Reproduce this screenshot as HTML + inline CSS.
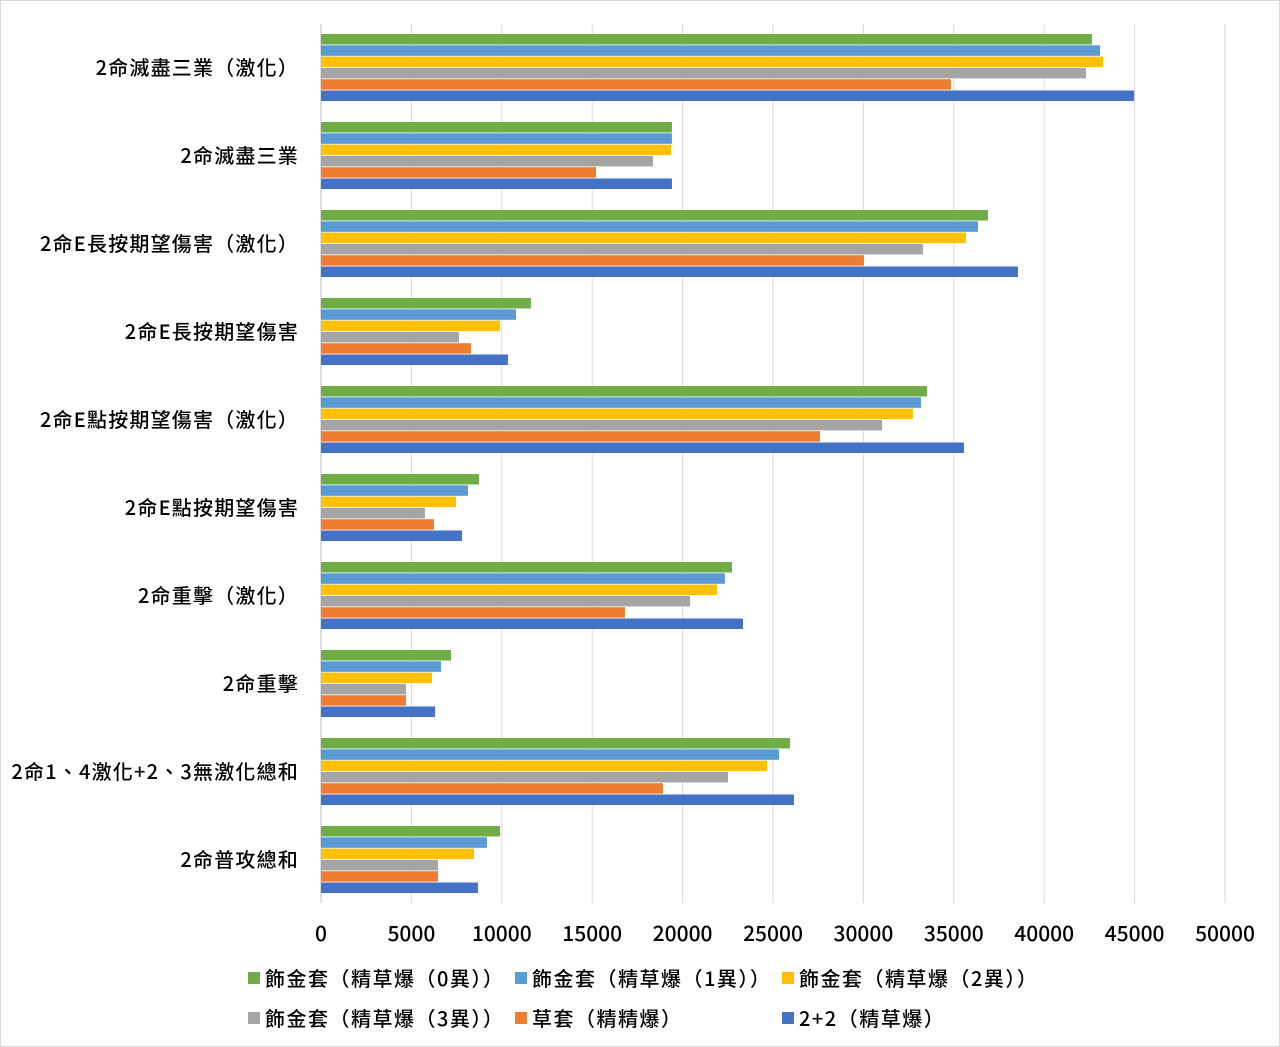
<!DOCTYPE html>
<html><head><meta charset="utf-8">
<style>
body{margin:0;background:#fff;}
svg{display:block;font-family:"Noto Sans CJK TC","Liberation Sans",sans-serif;font-weight:500;}
</style></head>
<body>
<svg id="chart" width="1280" height="1047" viewBox="0 0 1280 1047" xmlns="http://www.w3.org/2000/svg">
<rect x="0.5" y="0.5" width="1279" height="1046" fill="#fff" stroke="#d9d9d9"/>
<g id="grid"></g><g id="bars"></g><g id="cats"></g><g id="ticks"></g><g id="legend"></g>
</svg>
<script>
const categories=["2命滅盡三業（激化）","2命滅盡三業","2命E長按期望傷害（激化）","2命E長按期望傷害","2命E點按期望傷害（激化）","2命E點按期望傷害","2命重擊（激化）","2命重擊","2命1、4激化+2、3無激化總和","2命普攻總和"];
const seriesNames=["飾金套（精草爆（0異））","飾金套（精草爆（1異））","飾金套（精草爆（2異））","飾金套（精草爆（3異））","草套（精精爆）","2+2（精草爆）"];
const seriesColors=["#70ad47","#5b9bd5","#ffc000","#a5a5a5","#ed7d31","#4472c4"];
const s0=[42640,19410,36890,11610,33520,8740,22730,7190,25940,9900];
const s1=[43090,19410,36340,10790,33190,8130,22340,6640,25330,9180];
const s2=[43250,19360,35670,9900,32740,7470,21900,6140,24670,8460];
const s3=[42310,18360,33300,7630,31030,5750,20410,4700,22510,6470];
const s4=[34850,15210,30030,8300,27600,6250,16810,4700,18920,6470];
const s5=[44970,19410,38550,10340,35560,7800,23340,6310,26160,8680];
const series=[s0,s1,s2,s3,s4,s5];
const tickValues=[0,5000,10000,15000,20000,25000,30000,35000,40000,45000,50000];

const NS="http://www.w3.org/2000/svg";
const x0=321,x1=1225,xmax=50000,top0=34,groupH=88,barH=11.3;
const xs=v=>x0+v/xmax*(x1-x0);
function mk(t,a,p){const e=document.createElementNS(NS,t);for(const k in a)e.setAttribute(k,a[k]);p.appendChild(e);return e;}
const grid=document.getElementById('grid'),bars=document.getElementById('bars'),cats=document.getElementById('cats'),ticks=document.getElementById('ticks'),legend=document.getElementById('legend');
tickValues.forEach(v=>{
  const l=mk('line',{x1:xs(v),x2:xs(v),y1:24,y2:903,stroke:v===0?'#bfbfbf':'#d9d9d9','stroke-width':1},grid);
  
  
  const t=mk('text',{x:xs(v),y:941,'text-anchor':'middle','font-size':21,fill:'#000'},ticks);
  t.textContent=v;
  
  
});
categories.forEach((c,i)=>{
  const gy=top0+i*groupH;
  series.forEach((s,j)=>{
    const r=mk('rect',{x:x0,y:gy+j*barH,width:xs(s[i])-x0,height:barH-0.8,fill:seriesColors[j]},bars);
    
    
  });
  const t=mk('text',{x:299,y:gy+41,'text-anchor':'end','font-size':20,'letter-spacing':1.2,fill:'#000'},cats);
  t.textContent=c;
  
  
});
const lpos=[[248,978],[515,978],[782,978],[248,1018],[515,1018],[782,1018]];
seriesNames.forEach((n,j)=>{
  const g=mk('g',{},legend);
  
  
  mk('rect',{x:lpos[j][0],y:lpos[j][1]-6,width:12,height:12,fill:seriesColors[j]},g);
  const t=mk('text',{x:lpos[j][0]+17,y:lpos[j][1]+8,'font-size':20,'letter-spacing':1.5,fill:'#000'},g);
  t.textContent=n;
});
</script>
</body></html>
